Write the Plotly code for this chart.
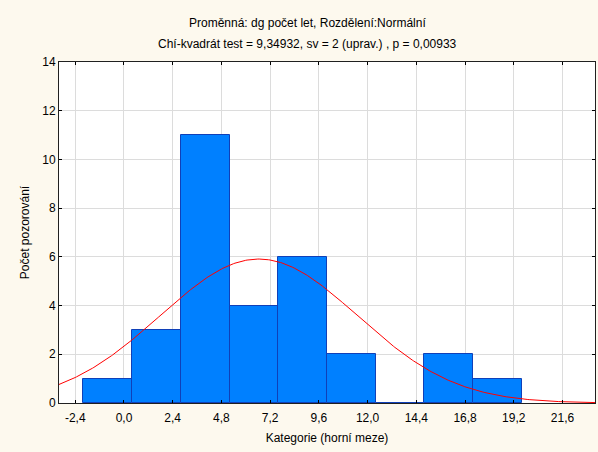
import numpy as np
import plotly.graph_objects as go

# Histogram of "dg počet let" with a fitted normal curve
bin_width = 2.4
first_edge = -2.0
counts = [1, 3, 11, 4, 6, 2, 0, 2, 1]

# Fitted normal distribution (expected counts per class)
n_obs = 30
fit_mean = 6.64
fit_sd = 4.86

x_tick_vals = [-2.4, 0.0, 2.4, 4.8, 7.2, 9.6, 12.0, 14.4, 16.8, 19.2, 21.6]
x_tick_text = ["-2,4", "0,0", "2,4", "4,8", "7,2", "9,6", "12,0", "14,4", "16,8", "19,2", "21,6"]
y_tick_vals = [0, 2, 4, 6, 8, 10, 12, 14]

title_line1 = "Proměnná: dg počet let, Rozdělení:Normální"
title_line2 = "Chí-kvadrát test = 9,34932, sv = 2 (uprav.) , p = 0,00933"

x_range = [-3.2, 23.2]
y_range = [0, 14]

centers = [first_edge + bin_width * (i + 0.5) for i in range(len(counts))]

xs = np.linspace(x_range[0], x_range[1], 400)
ys = n_obs * bin_width / (fit_sd * np.sqrt(2 * np.pi)) * np.exp(-0.5 * ((xs - fit_mean) / fit_sd) ** 2)

font_family = "Liberation Sans, Arial, sans-serif"

W, H = 598, 452
ML, MR, MT, MB = 59, 3, 62, 49

fig = go.Figure()
fig.add_trace(go.Bar(
    x=centers, y=counts, width=bin_width,
    marker=dict(color="#0080FF", line=dict(color="#1040B8", width=1)),
    hoverinfo="skip",
))
fig.add_trace(go.Scatter(
    x=xs, y=ys, mode="lines",
    line=dict(color="#FF0000", width=1),
    hoverinfo="skip",
))

# title lines positioned in pixels, converted to paper coordinates
plot_w = W - ML - MR
plot_h = H - MT - MB
def px_to_paper(px, py):
    return (px - ML) / plot_w, (H - MB - py) / plot_h

t1x, t1y = px_to_paper(307, 23)
t2x, t2y = px_to_paper(307, 44)

fig.update_layout(
    width=W, height=H,
    margin=dict(l=ML, r=MR, t=MT, b=MB),
    paper_bgcolor="#FDF9EE",
    plot_bgcolor="#FFFFFF",
    showlegend=False,
    bargap=0,
    font=dict(family=font_family, size=12, color="#000000"),
    annotations=[
        dict(text=title_line1, x=t1x, y=t1y, xref="paper", yref="paper", showarrow=False,
             xanchor="center", yanchor="middle", font=dict(size=12)),
        dict(text=title_line2, x=t2x, y=t2y, xref="paper", yref="paper", showarrow=False,
             xanchor="center", yanchor="middle", font=dict(size=12)),
    ],
)

fig.update_xaxes(
    range=x_range, tickvals=x_tick_vals, ticktext=x_tick_text,
    showgrid=True, gridcolor="#DCDCDC", gridwidth=1,
    ticks="inside", ticklen=3, tickcolor="#000000",
    showline=True, linecolor="#202020", linewidth=1, mirror="ticks",
    zeroline=False,
    ticklabelstandoff=4,
    title=dict(text="Kategorie (horní meze)", standoff=9, font=dict(size=12)),
    tickfont=dict(size=12),
)
fig.update_yaxes(
    range=y_range, tickvals=y_tick_vals,
    showgrid=True, gridcolor="#DCDCDC", gridwidth=1,
    ticks="inside", ticklen=3, tickcolor="#000000",
    showline=True, linecolor="#202020", linewidth=1, mirror="ticks",
    zeroline=False,
    title=dict(text="Počet pozorování", standoff=10, font=dict(size=12)),
    tickfont=dict(size=12),
)

fig.write_html("out.html")
